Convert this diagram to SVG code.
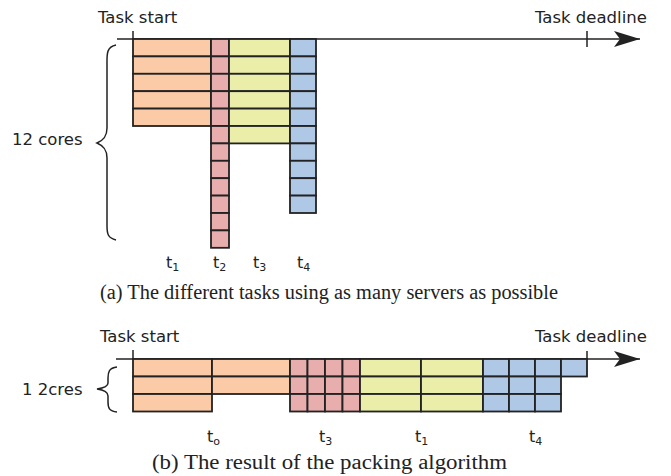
<svg xmlns="http://www.w3.org/2000/svg" width="671" height="476" viewBox="0 0 671 476">
<style>
.lbl{font-family:"DejaVu Sans",sans-serif;font-size:16.5px;fill:#222}
.tl{font-family:"DejaVu Sans",sans-serif;font-size:16px;fill:#222}
.sub{font-size:11px}
.cap{font-family:"Liberation Serif","Times New Roman",serif;font-size:20.5px;fill:#222}
.ln{stroke:#222;stroke-width:1.5;fill:none}
.c{stroke:#222;stroke-width:1.8}
.o{fill:#FBCBA7}
.p{fill:#E8AEAE}
.y{fill:#EAEEA9}
.b{fill:#AEC8E6}
</style>
<defs>
<marker id="arr" markerWidth="30" markerHeight="20" refX="26" refY="8" orient="auto" markerUnits="userSpaceOnUse">
<path d="M0,0 L26,8 L0,16 L6,8 Z" fill="#222"/>
</marker>
</defs>

<g id="connectors">
<line class="ln" x1="117" y1="39" x2="640" y2="39" marker-end="url(#arr)"/>
<line class="ln" x1="133" y1="31" x2="133" y2="39"/>
<line class="ln" x1="587" y1="31" x2="587" y2="47"/>
<path class="ln" d="M116,45 C106,47 107,55 107,65 L107,128 C107,136 104,140 97,143 C104,146 107,150 107,158 L107,226 C107,234 108,238 116,240"/>
<line class="ln" x1="116" y1="359" x2="640" y2="359" marker-end="url(#arr)"/>
<line class="ln" x1="133" y1="350" x2="133" y2="359"/>
<path class="ln" d="M117,367 C109,368 108,372 108,378 L108,383 C108,386 104,388 97,389 C104,390 108,392 108,396 L108,402 C108,408 109,411 117,412"/>
</g>

<g id="top-labels">
<text class="lbl" x="98" y="22.5">Task start</text>
<text class="lbl" x="535" y="22.5">Task deadline</text>
<text class="lbl" x="12" y="144.5">12 cores</text>
<text class="tl" x="166" y="268">t<tspan class="sub" dy="3">1</tspan></text>
<text class="tl" x="213" y="268">t<tspan class="sub" dy="3">2</tspan></text>
<text class="tl" x="253" y="268">t<tspan class="sub" dy="3">3</tspan></text>
<text class="tl" x="297" y="268">t<tspan class="sub" dy="3">4</tspan></text>
<text class="cap" x="100" y="299" textLength="458" lengthAdjust="spacingAndGlyphs">(a) The different tasks using as many servers as possible</text>
</g>

<g id="task-t1-a">
<rect class="o c" x="133" y="39" width="78" height="17.4"/>
<rect class="o c" x="133" y="56.4" width="78" height="17.4"/>
<rect class="o c" x="133" y="73.8" width="78" height="17.4"/>
<rect class="o c" x="133" y="91.2" width="78" height="17.4"/>
<rect class="o c" x="133" y="108.6" width="78" height="17.4"/>
</g>
<g id="task-t2-a">
<rect class="p c" x="211" y="39" width="18" height="17.4"/>
<rect class="p c" x="211" y="56.4" width="18" height="17.4"/>
<rect class="p c" x="211" y="73.8" width="18" height="17.4"/>
<rect class="p c" x="211" y="91.2" width="18" height="17.4"/>
<rect class="p c" x="211" y="108.6" width="18" height="17.4"/>
<rect class="p c" x="211" y="126" width="18" height="17.4"/>
<rect class="p c" x="211" y="143.4" width="18" height="17.4"/>
<rect class="p c" x="211" y="160.8" width="18" height="17.4"/>
<rect class="p c" x="211" y="178.2" width="18" height="17.4"/>
<rect class="p c" x="211" y="195.6" width="18" height="17.4"/>
<rect class="p c" x="211" y="213" width="18" height="17.4"/>
<rect class="p c" x="211" y="230.4" width="18" height="17.4"/>
</g>
<g id="task-t3-a">
<rect class="y c" x="229" y="39" width="61" height="17.4"/>
<rect class="y c" x="229" y="56.4" width="61" height="17.4"/>
<rect class="y c" x="229" y="73.8" width="61" height="17.4"/>
<rect class="y c" x="229" y="91.2" width="61" height="17.4"/>
<rect class="y c" x="229" y="108.6" width="61" height="17.4"/>
<rect class="y c" x="229" y="126" width="61" height="17.4"/>
</g>
<g id="task-t4-a">
<rect class="b c" x="290" y="39" width="26" height="17.4"/>
<rect class="b c" x="290" y="56.4" width="26" height="17.4"/>
<rect class="b c" x="290" y="73.8" width="26" height="17.4"/>
<rect class="b c" x="290" y="91.2" width="26" height="17.4"/>
<rect class="b c" x="290" y="108.6" width="26" height="17.4"/>
<rect class="b c" x="290" y="126" width="26" height="17.4"/>
<rect class="b c" x="290" y="143.4" width="26" height="17.4"/>
<rect class="b c" x="290" y="160.8" width="26" height="17.4"/>
<rect class="b c" x="290" y="178.2" width="26" height="17.4"/>
<rect class="b c" x="290" y="195.6" width="26" height="17.4"/>
</g>

<g id="bottom-labels">
<text class="lbl" x="100" y="342">Task start</text>
<text class="lbl" x="535" y="342">Task deadline</text>
<text class="lbl" x="22" y="394.5">1 2cres</text>
<text class="tl" x="207" y="442">t<tspan class="sub" dy="3">o</tspan></text>
<text class="tl" x="319" y="442">t<tspan class="sub" dy="3">3</tspan></text>
<text class="tl" x="415" y="442">t<tspan class="sub" dy="3">1</tspan></text>
<text class="tl" x="529" y="442">t<tspan class="sub" dy="3">4</tspan></text>
<text class="cap" x="152" y="469" textLength="355" lengthAdjust="spacingAndGlyphs">(b) The result of the packing algorithm</text>
</g>

<g id="task-t0-b">
<rect class="o c" x="133" y="359" width="79" height="17.5"/>
<rect class="o c" x="133" y="376.5" width="79" height="17.5"/>
<rect class="o c" x="133" y="394" width="79" height="17.5"/>
<rect class="o c" x="212" y="359" width="78" height="17.5"/>
<rect class="o c" x="212" y="376.5" width="78" height="17.5"/>
</g>
<g id="task-t3-b">
<rect class="p c" x="290" y="359" width="17.5" height="17.5"/>
<rect class="p c" x="307.5" y="359" width="17.5" height="17.5"/>
<rect class="p c" x="325" y="359" width="17.5" height="17.5"/>
<rect class="p c" x="342.5" y="359" width="17.5" height="17.5"/>
<rect class="p c" x="290" y="376.5" width="17.5" height="17.5"/>
<rect class="p c" x="307.5" y="376.5" width="17.5" height="17.5"/>
<rect class="p c" x="325" y="376.5" width="17.5" height="17.5"/>
<rect class="p c" x="342.5" y="376.5" width="17.5" height="17.5"/>
<rect class="p c" x="290" y="394" width="17.5" height="17.5"/>
<rect class="p c" x="307.5" y="394" width="17.5" height="17.5"/>
<rect class="p c" x="325" y="394" width="17.5" height="17.5"/>
<rect class="p c" x="342.5" y="394" width="17.5" height="17.5"/>
</g>
<g id="task-t1-b">
<rect class="y c" x="360" y="359" width="61" height="17.5"/>
<rect class="y c" x="360" y="376.5" width="61" height="17.5"/>
<rect class="y c" x="360" y="394" width="61" height="17.5"/>
<rect class="y c" x="421" y="359" width="62" height="17.5"/>
<rect class="y c" x="421" y="376.5" width="62" height="17.5"/>
<rect class="y c" x="421" y="394" width="62" height="17.5"/>
</g>
<g id="task-t4-b">
<rect class="b c" x="483" y="359" width="26" height="17.5"/>
<rect class="b c" x="509" y="359" width="26" height="17.5"/>
<rect class="b c" x="535" y="359" width="26" height="17.5"/>
<rect class="b c" x="561" y="359" width="26" height="17.5"/>
<rect class="b c" x="483" y="376.5" width="26" height="17.5"/>
<rect class="b c" x="509" y="376.5" width="26" height="17.5"/>
<rect class="b c" x="535" y="376.5" width="26" height="17.5"/>
<rect class="b c" x="483" y="394" width="26" height="17.5"/>
<rect class="b c" x="509" y="394" width="26" height="17.5"/>
<rect class="b c" x="535" y="394" width="26" height="17.5"/>
</g>
<line class="ln" x1="587" y1="351" x2="587" y2="359"/>
</svg>
